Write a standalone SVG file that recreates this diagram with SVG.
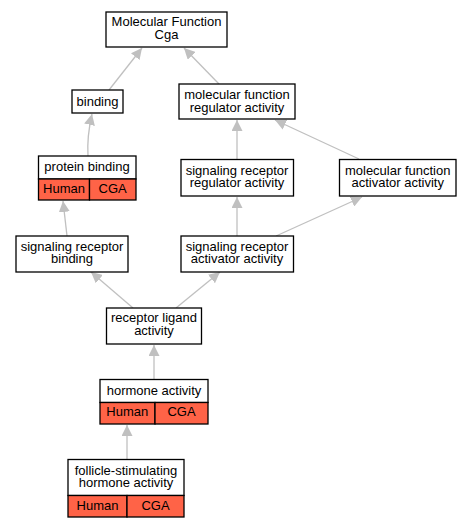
<svg xmlns="http://www.w3.org/2000/svg" width="471" height="528" viewBox="0 0 471 528">
<defs>
<marker id="ah" markerUnits="userSpaceOnUse" markerWidth="12" markerHeight="11" refX="11" refY="5.5" orient="auto">
<path d="M0,0 L11,5.5 L0,11 z" fill="#c0c0c0"/>
</marker>
</defs>
<style>
.box{fill:#fff;stroke:#000;stroke-width:1.3}
.hit{fill:#ff6347;stroke:#000;stroke-width:1.3}
text{font-family:"Liberation Sans",Arial,sans-serif;font-size:13px;fill:#000;text-anchor:middle}
.e{fill:none;stroke:#c0c0c0;stroke-width:1.3;marker-end:url(#ah)}
</style>
<rect width="471" height="528" fill="#fff"/>
<g id="edges">
<path class="e" d="M109,90 L142,48"/>
<path class="e" d="M219,84 L184,48"/>
<path class="e" d="M88,156 C87,140 89,127 92,114"/>
<path class="e" d="M237,159 L237,120"/>
<path class="e" d="M359,159 L275,120"/>
<path class="e" d="M67,236 L63,201"/>
<path class="e" d="M237,236 L237,197"/>
<path class="e" d="M276,236 L362,197"/>
<path class="e" d="M133,308 L91,272"/>
<path class="e" d="M176,308 L220,272"/>
<path class="e" d="M154,379 L154,345"/>
<path class="e" d="M127,459 L127,425"/>
</g>
<g id="mf">
<rect class="box" x="106" y="12" width="121" height="35"/>
<text x="166.5" y="26">Molecular Function</text>
<text x="166.5" y="39">Cga</text>
</g>
<g id="binding">
<rect class="box" x="72" y="90" width="51" height="23"/>
<text x="97.5" y="106">binding</text>
</g>
<g id="mfra">
<rect class="box" x="179" y="84" width="116" height="35"/>
<text x="237" y="99">molecular function</text>
<text x="237" y="111.5">regulator activity</text>
</g>
<g id="pb">
<rect class="box" x="38.5" y="156" width="97.5" height="23"/>
<rect class="hit" x="38.5" y="179" width="51" height="21"/>
<rect class="hit" x="89.5" y="179" width="46.5" height="21"/>
<text x="87" y="170.5">protein binding</text>
<text x="64" y="192.5">Human</text>
<text x="112.7" y="192.5">CGA</text>
</g>
<g id="srra">
<rect class="box" x="181" y="159.5" width="112.5" height="36.5"/>
<text x="237" y="174.5">signaling receptor</text>
<text x="237" y="187">regulator activity</text>
</g>
<g id="mfaa">
<rect class="box" x="339.5" y="159.5" width="116.5" height="36.5"/>
<text x="397.7" y="174.5">molecular function</text>
<text x="397.7" y="187">activator activity</text>
</g>
<g id="srb">
<rect class="box" x="16" y="236" width="112" height="36"/>
<text x="72" y="250.5">signaling receptor</text>
<text x="72" y="263">binding</text>
</g>
<g id="sraa">
<rect class="box" x="181" y="236" width="112.5" height="36"/>
<text x="237" y="250.5">signaling receptor</text>
<text x="237" y="263">activator activity</text>
</g>
<g id="rla">
<rect class="box" x="106.5" y="308" width="95" height="36"/>
<text x="154" y="322">receptor ligand</text>
<text x="154" y="335">activity</text>
</g>
<g id="ha">
<rect class="box" x="100" y="379.5" width="108" height="23"/>
<rect class="hit" x="100" y="402.5" width="55" height="21.5"/>
<rect class="hit" x="155" y="402.5" width="53" height="21.5"/>
<text x="154" y="394.5">hormone activity</text>
<text x="127.3" y="416">Human</text>
<text x="181.5" y="416">CGA</text>
</g>
<g id="fsha">
<rect class="box" x="68" y="459.5" width="116" height="36"/>
<rect class="hit" x="68" y="495.5" width="59" height="21.5"/>
<rect class="hit" x="127" y="495.5" width="57" height="21.5"/>
<text x="126" y="474.5">follicle-stimulating</text>
<text x="126" y="487">hormone activity</text>
<text x="97.5" y="509.5">Human</text>
<text x="155.5" y="509.5">CGA</text>
</g>
</svg>
